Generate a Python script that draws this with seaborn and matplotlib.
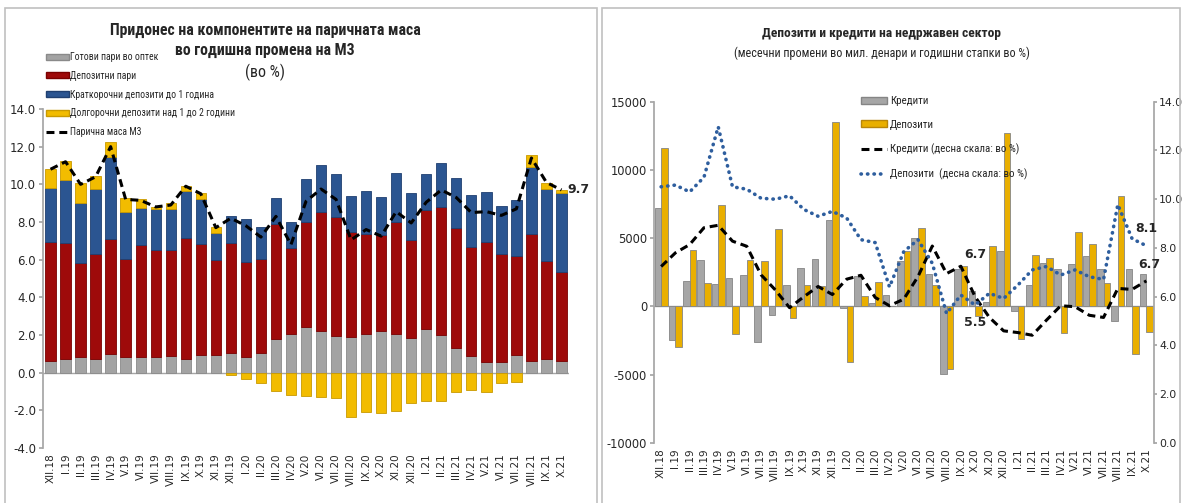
import numpy as np
import pandas as pd
import matplotlib
matplotlib.use("Agg")
import matplotlib.pyplot as plt
from matplotlib import font_manager as fm
from matplotlib.patches import Patch, Rectangle
from matplotlib.lines import Line2D
import seaborn as sns

# months on both charts
months = ["XII.18", "I.19", "II.19", "III.19", "IV.19", "V.19", "VI.19", "VII.19",
          "VIII.19", "IX.19", "X.19", "XI.19", "XII.19", "I.20", "II.20", "III.20",
          "IV.20", "V.20", "VI.20", "VII.20", "VIII.20", "IX.20", "X.20", "XI.20",
          "XII.20", "I.21", "II.21", "III.21", "IV.21", "V.21", "VI.21", "VII.21",
          "VIII.21", "IX.21", "X.21"]

# left chart - contributions to annual change of M3 (p.p.)
cash = [0.62, 0.71, 0.81, 0.74, 0.99, 0.81, 0.81, 0.85, 0.88, 0.71, 0.94, 0.92,
        1.03, 0.83, 1.03, 1.81, 2.05, 2.41, 2.23, 1.96, 1.91, 2.05, 2.23, 2.05,
        1.82, 2.30, 2.00, 1.29, 0.88, 0.57, 0.57, 0.94, 0.62, 0.71, 0.62]
demand_dep = [6.30, 6.16, 5.03, 5.54, 6.11, 5.23, 5.99, 5.68, 5.63, 6.44, 5.87, 5.06,
              5.87, 5.06, 4.99, 6.08, 4.55, 5.61, 6.32, 6.29, 5.54, 5.31, 5.06, 5.97,
              5.22, 6.34, 6.81, 6.37, 5.77, 6.35, 5.73, 5.27, 6.74, 5.22, 4.74]
short_dep = [2.87, 3.36, 3.19, 3.45, 4.33, 2.51, 1.93, 2.14, 2.16, 2.50, 2.39, 1.45,
             1.42, 2.25, 1.73, 1.37, 1.42, 2.28, 2.48, 2.30, 1.93, 2.30, 2.06, 2.56,
             2.52, 1.89, 2.34, 2.69, 2.78, 2.69, 2.55, 2.96, 3.54, 3.80, 4.20]
long_dep = [1.04, 0.99, 1.06, 0.71, 0.80, 0.71, 0.49, 0.10, 0.32, 0.26, 0.32, 0.32,
            -0.12, -0.35, -0.57, -0.96, -1.20, -1.24, -1.27, -1.33, -2.34, -2.07, -2.12, -2.02,
            -1.59, -1.49, -1.49, -1.03, -0.92, -1.04, -0.53, -0.50, 0.66, 0.36, 0.14]
m3 = [10.8, 11.2, 10.0, 10.4, 12.0, 9.2, 9.15, 8.8, 8.9, 9.9, 9.5, 7.7,
      8.2, 7.8, 7.2, 8.3, 6.8, 9.1, 9.75, 9.2, 7.05, 7.6, 7.25, 8.55,
      7.95, 9.05, 9.7, 9.3, 8.5, 8.55, 8.35, 8.7, 11.4, 10.1, 9.7]

# right chart - monthly changes (mil. denars) and annual rates (%)
credits_chg = [7180, -2430, 1860, 3380, 1670, 2110, 2300, -2620, -660, 1540, 2800, 3470,
               6310, -100, 2200, 240, 860, 3300, 5010, 2400, -4940, 2760, 1170, 300,
               4030, -340, 1590, 3180, 2760, 3130, 3670, 2760, -1080, 2710, 2400]
deposits_chg = [11610, -2990, 4120, 1720, 7450, -2010, 3380, 3330, 5690, -860, 1540, 1470,
                13500, -4040, 790, 1780, 60, 4030, 5770, 1540, -4570, 3000, -710, 4420,
                12700, -2370, 3790, 3570, -1960, 5450, 4550, 1740, 8090, -3470, -1880]
credits_yoy = [7.24, 7.80, 8.14, 8.83, 8.93, 8.28, 8.07, 6.90, 6.28, 5.55, 6.0, 6.42,
               6.09, 6.72, 6.88, 5.97, 5.63, 5.90, 6.83, 8.08, 6.95, 7.25, 6.0, 5.15,
               4.60, 4.53, 4.42, 5.04, 5.63, 5.59, 5.24, 5.15, 6.34, 6.30, 6.65]
deposits_yoy = [10.51, 10.58, 10.30, 10.90, 12.97, 10.51, 10.41, 10.04, 10.0, 10.14, 9.58, 9.30,
                9.50, 9.23, 8.34, 8.22, 6.40, 7.85, 8.34, 7.37, 5.31, 6.07, 5.66, 6.14,
                5.93, 6.48, 7.10, 7.24, 6.89, 7.10, 6.82, 6.71, 9.78, 8.38, 8.09]

sns.set_theme(style="white")
plt.rcParams["font.family"] = ["DejaVu Sans"]


def pick_font(cands):
    for f in cands:
        try:
            fm.findfont(fm.FontProperties(family=f), fallback_to_default=False)
            return f
        except ValueError:
            pass
    return "DejaVu Sans"


# the original uses a narrow font; take one if installed
narrow = pick_font(["Liberation Sans Narrow", "Roboto Condensed", "Noto Sans Condensed",
                    "Liberation Sans"])

GRAY, RED, BLUE, GOLD = "#A3A3A3", "#9E0A0A", "#2B5591", "#F2BC00"
AXC = "#A6A6A6"

W, H = 1182, 503
fig = plt.figure(figsize=(W / 100, H / 100), dpi=100)
rend = fig.canvas.get_renderer()


def px_box(x0, y0, x1, y1):
    return [x0 / W, 1 - y1 / H, (x1 - x0) / W, (y1 - y0) / H]


def fit_size(text, width_px, weight="normal", base=10):
    # font size that makes the text about as wide as in the original
    t = fig.text(0, 0, text, fontsize=base, family=narrow, fontweight=weight)
    w = t.get_window_extent(renderer=rend).width
    t.remove()
    return base * width_px / w


# panel frames
for x0, x1 in [(5, 597), (602, 1180)]:
    fig.add_artist(Rectangle((x0 / W, -0.05), (x1 - x0) / W, 1.05 - 8 / H,
                             transform=fig.transFigure, fill=False,
                             edgecolor="#C0C0C0", lw=1.2))

# ---------------- left chart ----------------
ax1 = fig.add_axes(px_box(43, 109, 569, 448))
c = np.array(cash)
d = np.array(demand_dep)
s = np.array(short_dep)
g = np.array(long_dep)
x = np.arange(len(months))

layers = [(c, 0, GRAY, "#8A8A8A"),
          (d, c, RED, "#7A0000"),
          (s, c + d, BLUE, "#1F3F70"),
          (g, np.where(g > 0, c + d + s, 0), GOLD, "#C99A00")]
for vals, base, col, edge in layers:
    sns.barplot(x=months, y=vals, order=months, bottom=base, color=col,
                saturation=1, width=0.69, errorbar=None, edgecolor=edge,
                linewidth=0.6, ax=ax1)

sns.lineplot(x=x, y=m3, ax=ax1, color="black", lw=2.2,
             linestyle=(0, (2.6, 1.6)), zorder=5)
ax1.annotate("9.7", (x[-1], m3[-1]), xytext=(6, 0), textcoords="offset pixels",
             ha="left", va="center", fontsize=9, fontweight="bold")

ax1.axhline(0, color=AXC, lw=1, zorder=0.5)
ax1.set_xlim(-0.5, len(months) - 0.5)
ax1.set_ylim(-4, 14)
ax1.set_yticks(np.arange(-4, 15, 2))
ax1.set_yticklabels([f"{v:.1f}" for v in np.arange(-4, 15, 2)])
ax1.set_xticks(x)
ax1.set_xticklabels(months, rotation=90)
ax1.set(xlabel="", ylabel="")
for sp in ["top", "right", "bottom"]:
    ax1.spines[sp].set_visible(False)
ax1.spines["left"].set_color(AXC)
ax1.tick_params(axis="y", left=True, length=3, color=AXC, labelsize=8.5, pad=2)
ax1.tick_params(axis="x", length=0, labelsize=7.5, pad=4)

t1 = "Придонес на компонентите на паричната маса"
fs1 = fit_size(t1, 312, "bold")
fig.text(265 / W, 1 - 30 / H, t1, ha="center", va="center", fontsize=fs1,
         fontweight="bold", family=narrow)
fig.text(265 / W, 1 - 50 / H, "во годишна промена на М3", ha="center", va="center",
         fontsize=fs1, fontweight="bold", family=narrow)
fig.text(265 / W, 1 - 72 / H, "(во %)", ha="center", va="center",
         fontsize=fit_size("(во %)", 40), family=narrow)

h1 = [Patch(facecolor=GRAY, edgecolor="#8A8A8A"),
      Patch(facecolor=RED, edgecolor="#7A0000"),
      Patch(facecolor=BLUE, edgecolor="#1F3F70"),
      Patch(facecolor=GOLD, edgecolor="#C99A00"),
      Line2D([], [], color="black", lw=2.2, linestyle=(0, (2.6, 1.6)))]
l1 = ["Готови пари во оптек", "Депозитни пари", "Краткорочни депозити до 1 година",
      "Долгорочни депозити над 1 до 2 години", "Парична маса М3"]
lfs = fit_size(l1[3], 164)
fig.legend(h1, l1, loc="center left", bbox_to_anchor=(46 / W, 1 - 94.5 / H),
           frameon=False, borderpad=0, borderaxespad=0, handlelength=23 / (lfs * 1.39),
           handleheight=0.55, handletextpad=0.15,
           labelspacing=(18.4 - lfs * 1.39) / (lfs * 1.39),
           prop={"family": narrow, "size": lfs})

# ---------------- right chart ----------------
ax2 = fig.add_axes(px_box(654, 101.7, 1153.5, 443))
chg = pd.DataFrame({"month": months * 2,
                    "series": ["Кредити"] * len(months) + ["Депозити"] * len(months),
                    "value": credits_chg + deposits_chg})
sns.barplot(data=chg, x="month", y="value", hue="series", order=months,
            hue_order=["Кредити", "Депозити"], palette=["#A6A6A6", "#E9AF00"],
            saturation=1, width=0.92, errorbar=None, legend=False,
            edgecolor=["#858585"] * len(months) + ["#B8860B"] * len(months),
            linewidth=0.6, ax=ax2)
ax2.axhline(0, color=AXC, lw=1, zorder=0.5)
ax2.set_xlim(-0.5, len(months) - 0.5)
ax2.set_ylim(-10000, 15000)
ax2.set_yticks(np.arange(-10000, 15001, 5000))
ax2.set_yticklabels([f"{v:d}" for v in np.arange(-10000, 15001, 5000)])
ax2.set_xticks(x)
ax2.set_xticklabels(months, rotation=90)
ax2.set(xlabel="", ylabel="")

ax2r = ax2.twinx()
sns.lineplot(x=x, y=credits_yoy, ax=ax2r, color="black", lw=2.2,
             linestyle=(0, (2.6, 1.6)))
sns.lineplot(x=x, y=deposits_yoy, ax=ax2r, color="#2E5E9E", lw=2.6,
             linestyle=(0, (0.1, 1.7)), dash_capstyle="round")
ax2r.set_ylim(0, 14)
ax2r.set_yticks(np.arange(0, 15, 2))
ax2r.set_yticklabels([f"{v:.1f}" for v in np.arange(0, 15, 2)])
ax2r.set(xlabel="", ylabel="")
ax2r.set_xlim(-0.5, len(months) - 0.5)

for a in (ax2, ax2r):
    for sp in ["top", "bottom"]:
        a.spines[sp].set_visible(False)
    a.spines["left"].set_color(AXC)
    a.spines["right"].set_color(AXC)
ax2.spines["right"].set_visible(False)
ax2r.spines["left"].set_visible(False)
ax2.tick_params(axis="y", left=True, length=3, color=AXC, labelsize=8.3, pad=2)
ax2.tick_params(axis="x", length=0, labelsize=7.5, pad=4)
ax2r.tick_params(axis="y", right=True, length=2.5, color=AXC, labelsize=7.8, pad=1.5)

ax2r.annotate("6.7", (22, credits_yoy[22]), xytext=(0, 42), textcoords="offset pixels",
              ha="center", va="center", fontsize=9, fontweight="bold")
ax2r.annotate("5.5", (22, credits_yoy[22]), xytext=(0, -26), textcoords="offset pixels",
              ha="center", va="center", fontsize=9, fontweight="bold")
ax2r.annotate("8.1", (34, deposits_yoy[34]), xytext=(0, 17), textcoords="offset pixels",
              ha="center", va="center", fontsize=9, fontweight="bold")
ax2r.annotate("6.7", (34, credits_yoy[34]), xytext=(3, 16), textcoords="offset pixels",
              ha="center", va="center", fontsize=9, fontweight="bold")

t2 = "Депозити и кредити на недржавен сектор"
fig.text(882 / W, 1 - 34 / H, t2, ha="center", va="center",
         fontsize=fit_size(t2, 240, "bold"), fontweight="bold", family=narrow)
t3 = "(месечни промени во мил. денари и годишни стапки во %)"
fig.text(882 / W, 1 - 53 / H, t3, ha="center", va="center",
         fontsize=fit_size(t3, 296), family=narrow)

h2 = [Patch(facecolor="#A6A6A6", edgecolor="#858585"),
      Patch(facecolor="#E9AF00", edgecolor="#B8860B"),
      Line2D([], [], color="black", lw=2.2, linestyle=(0, (2.6, 1.6))),
      Line2D([], [], color="#2E5E9E", lw=2.6, linestyle=(0, (0.1, 1.7)),
             dash_capstyle="round")]
l2 = ["Кредити", "Депозити", "Кредити (десна скала: во %)",
      "Депозити  (десна скала: во %)"]
rfs = fit_size(l2[3], 138)
fig.legend(h2, l2, loc="center left", bbox_to_anchor=(861 / W, 1 - 138 / H),
           frameon=False, borderpad=0, borderaxespad=0, handlelength=26 / (rfs * 1.39),
           handleheight=0.6, handletextpad=0.25,
           labelspacing=(24.7 - rfs * 1.39) / (rfs * 1.39),
           prop={"family": narrow, "size": rfs})

fig.savefig("out.png", dpi=100)
